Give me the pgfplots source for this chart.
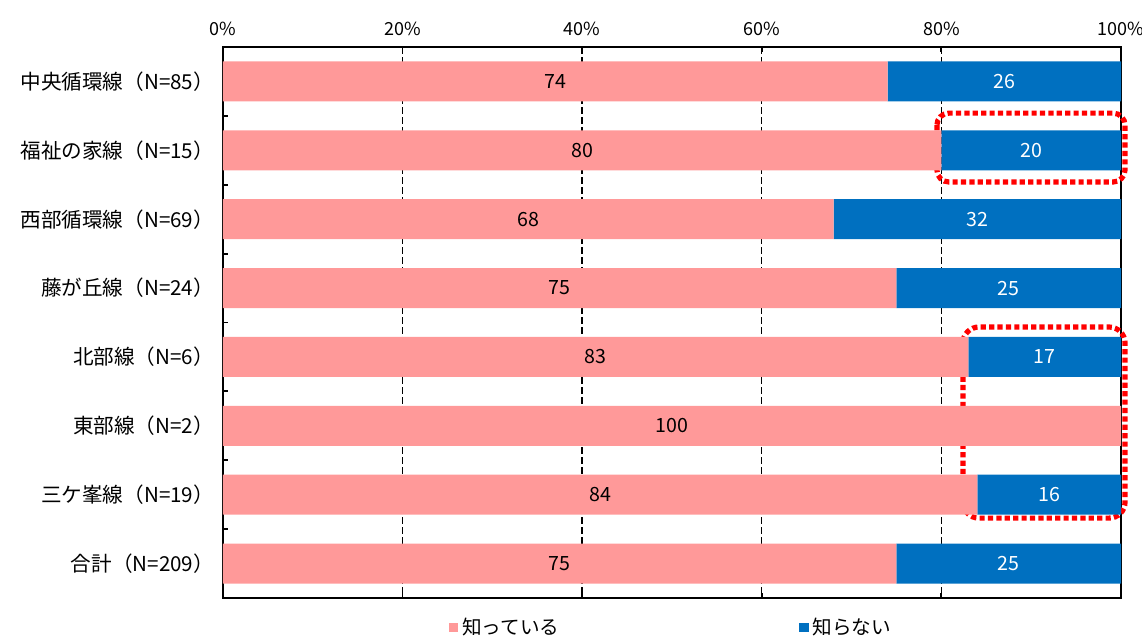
\documentclass[border=0pt]{standalone}
\usepackage{pgfplots}
\usepackage{pgfplotstable}
\pgfplotsset{compat=1.18}
\usepackage{fontspec}
\setmainfont{Noto Sans CJK JP}
\definecolor{pinkc}{RGB}{255,153,153}
\definecolor{bluec}{RGB}{0,112,192}

\pgfplotstableread{
i a b
0 74 26
1 80 20
2 68 32
3 75 25
4 83 17
5 100 0
6 84 16
7 75 25
}\data

% label positions (centre of each segment) and texts
\pgfplotstableread{
x y t
37 0 74
40 1 80
34 2 68
37.5 3 75
41.5 4 83
50 5 100
42 6 84
37.5 7 75
}\labA
\pgfplotstableread{
x y t
87 0 26
90 1 20
84 2 32
87.5 3 25
91.5 4 17
92 6 16
87.5 7 25
}\labB

\pgfplotsset{
  common/.style={
    at={(0,0)}, anchor=south west,
    scale only axis, width=449pt, height=275.5pt,
    xmin=0, xmax=100, ymin=-0.5, ymax=7.5, y dir=reverse,
    clip=false,
    font=\fontsize{9.8}{11}\selectfont,
  }
}

\begin{document}
\begin{tikzpicture}
\begin{axis}[
  common,
  xbar stacked, bar width=20pt,
  /pgf/number format/assume math mode=true,
  xtick={0,20,...,100}, xticklabel pos=upper,
  xticklabel={\pgfmathprintnumber{\tick}\%},
  xticklabel style={yshift=2pt, font=\fontsize{9}{10}\selectfont},
  ytick={0,...,7},
  yticklabels={{中央循環線（N=85）},{福祉の家線（N=15）},{西部循環線（N=69）},{藤が丘線（N=24）},{北部線（N=6）},{東部線（N=2）},{三ケ峯線（N=19）},{合計（N=209）}},
  yticklabel style={xshift=-1pt, font=\fontsize{10.3}{12}\selectfont},
  major y tick style={draw=none},
  minor ytick={0.5,1.5,...,6.5},
  ytick pos=left,
  tick align=inside,
  major tick length=2.5pt, minor tick length=2.5pt,
  xmajorgrids,
  major x grid style={black, dash pattern=on 3.5pt off 1.5pt, line width=0.7pt},
  axis line style={black, line width=0.9pt},
  tick style={black, line width=0.9pt},
  legend columns=2,
  legend style={at={(axis description cs:0.5,-0.054)}, anchor=center, draw=none,
    font=\fontsize{9.8}{11}\selectfont,
    /tikz/every even column/.append style={column sep=118pt}},
  legend image code/.code={\fill[#1] (0pt,-2.2pt) rectangle (4.6pt,2.4pt);},
]
\addplot[fill=pinkc, draw=none] table[x=a, y=i] {\data};
\addplot[fill=bluec, draw=none] table[x=b, y=i] {\data};
\legend{知っている, 知らない}
\draw[red, line width=2.6pt, dash pattern=on 2.6pt off 1.6pt, rounded corners=6pt]
  (axis cs:79.5,0.46) rectangle (axis cs:100.45,1.46);
\draw[red, line width=2.6pt, dash pattern=on 2.6pt off 1.6pt, rounded corners=8pt]
  (axis cs:82.4,3.565) rectangle (axis cs:100.45,6.34);
\end{axis}
\begin{axis}[common, hide axis]
\addplot[only marks, mark=none, nodes near coords, point meta=explicit symbolic,
  every node near coord/.style={anchor=center, text=black}]
  table[x=x, y=y, meta=t] {\labA};
\addplot[only marks, mark=none, nodes near coords, point meta=explicit symbolic,
  every node near coord/.style={anchor=center, text=white}]
  table[x=x, y=y, meta=t] {\labB};
\end{axis}
\pgfresetboundingbox
\useasboundingbox (-111.5pt,-20pt) rectangle (459.5pt,299pt);
\end{tikzpicture}
\end{document}
